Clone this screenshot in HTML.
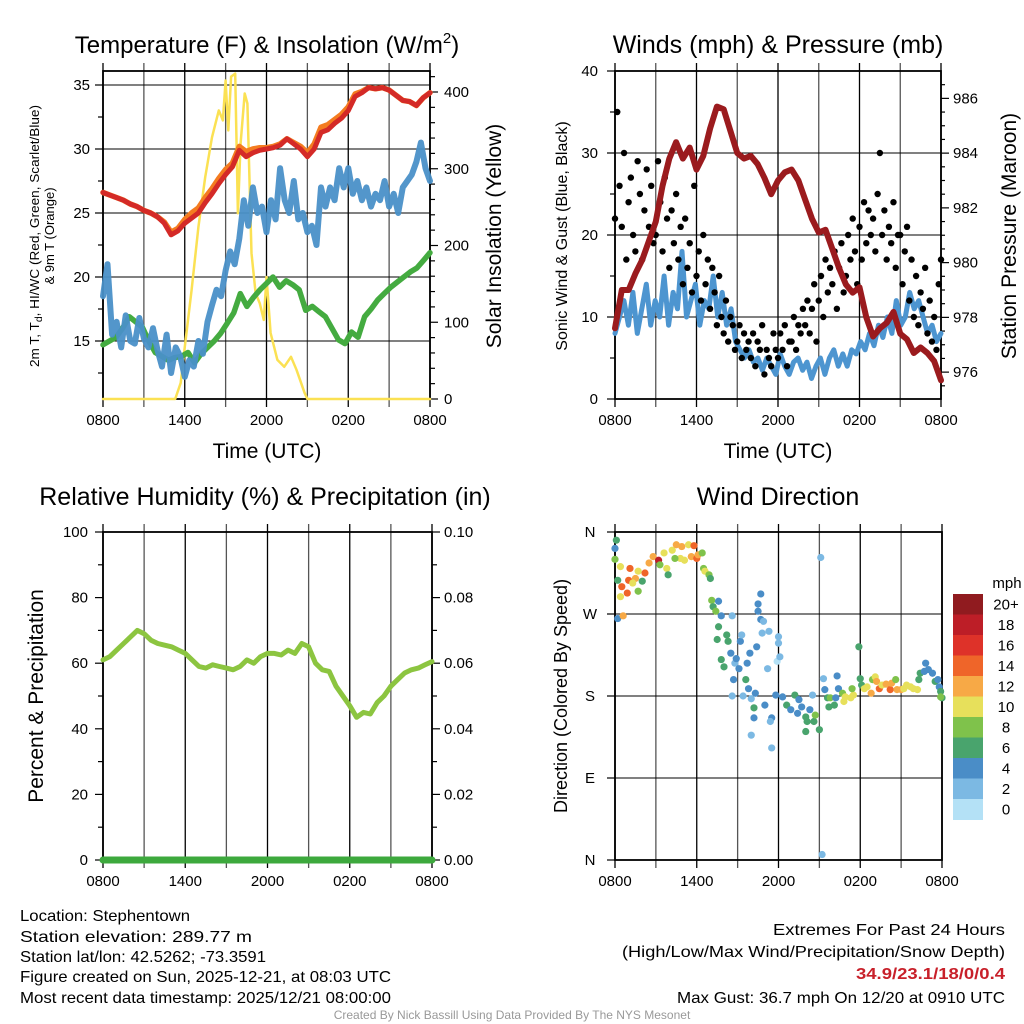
<!DOCTYPE html>
<html><head><meta charset="utf-8">
<style>
html,body{margin:0;padding:0;background:#fff;}
svg{display:block;font-family:"Liberation Sans",sans-serif;}
</style></head>
<body>
<svg id="fig" width="1024" height="1024" viewBox="0 0 1024 1024" xmlns="http://www.w3.org/2000/svg">
<rect x="0" y="0" width="1024" height="1024" fill="#fff"/>
<g id="p1"></g>
<g id="p2"></g>
<g id="p3"></g>
<g id="p4"></g>

<text x="267" y="53" font-size="24" text-anchor="middle">Temperature (F) &amp; Insolation (W/m<tspan font-size="15" dy="-10">2</tspan><tspan dy="10">)</tspan></text>
<text x="778" y="53" font-size="25" text-anchor="middle">Winds (mph) &amp; Pressure (mb)</text>
<text x="265" y="505" font-size="25" text-anchor="middle">Relative Humidity (%) &amp; Precipitation (in)</text>
<text x="778" y="505" font-size="25" text-anchor="middle">Wind Direction</text>

<text transform="translate(39,236) rotate(-90)" font-size="13" text-anchor="middle" textLength="262" lengthAdjust="spacingAndGlyphs">2m T, T<tspan font-size="10" dy="3">d</tspan><tspan dy="-3">, HI/WC (Red, Green, Scarlet/Blue)</tspan></text>
<text transform="translate(54,236) rotate(-90)" font-size="13" text-anchor="middle">&amp; 9m T (Orange)</text>
<text transform="translate(501,236) rotate(-90)" font-size="21" text-anchor="middle">Solar Insolation (Yellow)</text>
<text transform="translate(567,236) rotate(-90)" font-size="16" text-anchor="middle">Sonic Wind &amp; Gust (Blue, Black)</text>
<text transform="translate(1016,236) rotate(-90)" font-size="21" text-anchor="middle">Station Pressure (Maroon)</text>
<text transform="translate(43,696) rotate(-90)" font-size="21" text-anchor="middle">Percent &amp; Precipitation</text>
<text transform="translate(567,696) rotate(-90)" font-size="18" text-anchor="middle">Direction (Colored By Speed)</text>
<text x="267" y="458" font-size="21" text-anchor="middle">Time (UTC)</text>
<text x="778" y="458" font-size="21" text-anchor="middle">Time (UTC)</text>

<g font-size="16">
<text x="20" y="921" textLength="170" lengthAdjust="spacingAndGlyphs">Location: Stephentown</text>
<text x="20" y="942" textLength="232" lengthAdjust="spacingAndGlyphs">Station elevation: 289.77 m</text>
<text x="20" y="962" textLength="246" lengthAdjust="spacingAndGlyphs">Station lat/lon: 42.5262; -73.3591</text>
<text x="20" y="982" textLength="371" lengthAdjust="spacingAndGlyphs">Figure created on Sun, 2025-12-21, at 08:03 UTC</text>
<text x="20" y="1003" textLength="371" lengthAdjust="spacingAndGlyphs">Most recent data timestamp: 2025/12/21 08:00:00</text>
</g>
<g font-size="16" text-anchor="end">
<text x="1005" y="935" textLength="232" lengthAdjust="spacingAndGlyphs">Extremes For Past 24 Hours</text>
<text x="1005" y="957" textLength="383" lengthAdjust="spacingAndGlyphs">(High/Low/Max Wind/Precipitation/Snow Depth)</text>
<text x="1005" y="979" fill="#c8202a" font-weight="bold" textLength="149" lengthAdjust="spacingAndGlyphs">34.9/23.1/18/0/0.4</text>
<text x="1005" y="1003" textLength="328" lengthAdjust="spacingAndGlyphs">Max Gust: 36.7 mph On 12/20 at 0910 UTC</text>
</g>
<text x="512" y="1019" font-size="12" fill="#999" text-anchor="middle">Created By Nick Bassill Using Data Provided By The NYS Mesonet</text>
</svg>
<script>
// ---------- DATA ----------
const xTickLabels = ["0800","1400","2000","0200","0800"];
const tempTicks = [15,20,25,30,35];
const solarTicks = [0,100,200,300,400];
const windTicks = [0,10,20,30,40];
const pressTicks = [976,978,980,982,984,986];
const rhTicks = [0,20,40,60,80,100];
const precipTicks = ["0.00","0.02","0.04","0.06","0.08","0.10"];
const dirTickLabels = ["N","E","S","W","N"];
const speedBinLabels = ["0","2","4","6","8","10","12","14","16","18","20+"];
const speedColors = ["#b4e1f6","#7cb9e3","#4a8dc7","#49a46d","#7fc24b","#e7e05b","#f7a946","#ef6529","#de3229","#bd1e27","#901b1f"];

// temperature (F), every 30 min from 0800
const tempRed = [26.6,26.4,26.2,26,25.7,25.5,25.2,25,24.7,24.2,23.3,23.6,24.2,24.6,25,25.8,26.5,27.3,28,28.6,29.9,29.4,29.7,29.9,30,30.1,30.3,30.8,30.4,30,29.4,30,31.3,31.5,32,32.4,33,34.1,34.4,34.8,34.7,34.8,34.6,34.2,33.8,33.7,33.4,34,34.4];
const tempOrange = [26.6,26.4,26.2,26,25.7,25.5,25.2,25,24.7,24.3,23.5,23.8,24.5,25,25.4,26.2,26.9,27.7,28.4,28.9,30.2,29.8,30,30.1,30.1,30.2,30.4,30.8,30.5,30.2,29.7,30.4,31.7,31.9,32.3,32.7,33.3,34.3,34.5,34.8,34.7,34.8,34.6,34.2,33.8,33.7,33.4,34,34.4];
const dewGreen = [14.7,15,15.3,16,16.9,16.5,16.1,15,14.1,13.8,13.5,13.7,13.8,14.1,13.3,14,14.5,15,15.6,16.4,17.2,18.7,17.7,18.4,19,19.5,20,19.2,19.7,19.4,19,17.4,17.7,17.3,16.9,16,15.1,14.8,15.7,15.3,16.9,17.5,18.2,18.7,19.2,19.6,20,20.4,20.7,21.3,21.9];
// wind chill, every 20 min
const chillBlue = [18.5,21,15.5,16.5,14.5,17,15,14.8,16.8,15.2,14.5,16,14.3,13,15.5,12.5,14.5,13.8,12.2,13.5,13,15,14,16.5,17.8,19,18.5,20.5,22,21,23,26,24,27,25,25.5,23.5,26,24.5,28.5,26,25,27.5,24.5,25,23.5,24,22.5,27,25.5,27,26,28.5,27,28.5,26.5,27.5,26,27,25.5,26.5,26,27.5,25.5,26.5,25,27,27.5,28,29,30.5,28.5,27.5];
const solarHours = [0,5,5.3,5.7,6,6.5,7,7.5,8,8.5,8.8,9,9.2,9.4,9.7,9.9,10.1,10.4,10.6,10.9,11.2,11.5,11.8,12,12.3,12.8,13.3,13.8,14.2,14.8,15,24];
const solarValues = [0,0,0,21,68,142,224,289,341,376,363,415,350,420,424,242,333,398,385,190,138,125,103,159,86,51,42,55,38,8,0,0];

// winds, every 20 min (mph)
const windBlue = [8,10,12,9,13,8,11,14,9,12,10,15,9,13,11,18,10,12,14,9,12,11,15,10,13,9,11,7,6,5,6,4.5,5,3.5,5,4,3,5.5,4,3,4.5,5,3.5,4.5,2.5,4,5,3,5,6,4,5.5,4,6,5.5,7,6,8,6.5,9,7.5,10,8,12,9,10,13,11,12,10,8,9,7,8];
// gusts, every 10 min (mph)
const gustBlack = [22,35,26,21,30,17,24,27,20,18,29,25,17,23,28,21,26,19,20,29,24,18,27,22,16,23,19,25,17,21,14,22,16,19,13,26,15,18,12,20,14,17,11,16,13,9,15,10,8,12,7,10,9,6,7,9,5,8,6,7,5,8,4,7,6,9,3,6,5,4,8,6,5,8,6,9,4,7,7,10,6,9,8,11,9,12,8,11,14,7,12,15,10,17,13,16,14,18,11,16,19,13,15,20,17,22,18,14,21,17,24,19,23,20,22,18,25,30,20,23,17,21,19,24,16,20,20,14,18,21,12,17,10,15,9,13,11,16,8,12,7,10,6,14,17];
// pressure, every 30 min (mb)
const pressure = [977.6,979,979,979.6,980.1,980.8,981.5,982.8,983.8,984.4,983.8,984.2,983.4,983.9,984.9,985.7,985.6,984.8,984,983.8,983.9,983.6,983.1,982.5,983,983.3,983.4,983,982.3,981.6,981.1,981.2,980.5,979.8,979.2,978.9,979.1,978,977.3,977.6,977.8,978.2,977.4,977.2,976.7,976.9,976.7,976.4,975.7];

// relative humidity, every 30 min (%)
const rh = [61,62,64,66,68,70,69,67,66,65.5,65,64,63,61,59,58.5,59.5,59,58.5,58,59,61,60,62,63,63,62.5,64,63,66,65,60,58,57.5,53,50,47,43.5,45,44.5,48,50,53,55,57,58,58.5,59.5,60.5];
const precip = [0,0];

// wind direction points
const dirHours = [0.1,0,0,0.4,0.2,0.5,0.9,0.4,0.2,0.6,1.1,1,1.5,1.7,1.3,2,1.7,2.2,2.5,2.8,3.2,3.3,3.6,3.8,3.9,4.2,4.5,4.9,4.8,4.4,5.1,5.4,5.8,5.6,6,6.1,6.4,6.5,6.6,6.9,7,7.1,7.2,7.4,7.6,7.8,8.6,7.6,7.5,8.2,8.3,7.8,8,8.5,8.8,8.9,9.1,9.2,9.3,8.7,9.6,9.8,9.7,9.9,10.4,10.7,10.5,10.5,10.7,10.9,10.8,11.3,11.2,12,12,11.9,12.1,10.3,10.2,10.2,10,11,11.5,11.4,11.5,11.8,8.6,9.4,10,12.3,12.6,12.9,13.2,13.5,13.4,14,13.7,14.1,14,14.3,14.5,14.6,14.7,15,15.1,15.2,15.3,15.4,15.6,15.8,15.7,16.1,16.2,16.3,16.4,16.7,16.8,16.9,17.3,17.5,17.4,17.9,18,18.1,18.3,18.5,18.8,18.9,19.1,19.4,19.2,19.6,19.9,20.2,20.3,20.6,20.7,21,21.2,21.4,21.7,21.9,22.2,22.3,22.4,22.7,22.8,23,23.3,23.5,23.7,23.8,23.9,24,23.9];
const dirDegrees = [351,342,330,322,307,300,293,289,265,268,320,307,309,317,304,306,295,315,326,333,329,324,337,320,313,340,346,344,331,331,329,346,345,333,331,335,337,320,317,313,309,285,278,273,284,268,268,256,242,247,240,220,212,227,216,221,210,240,247,198,198,188,216,227,234,292,281,273,264,262,249,251,210,245,238,218,223,183,167,156,137,170,156,152,123,181,180,180,177,179,170,165,181,176,161,157,168,152,141,165,181,152,159,143,332,6,199,187,178,178,168,170,178,202,188,183,174,179,178,181,188,234,199,192,188,190,183,198,201,188,196,192,193,187,194,198,187,187,188,192,190,188,187,198,205,207,216,209,205,196,198,190,185,178,179];
const dirSpeeds = [6,4,8,10,6,14,14,10,4,12,14,14,12,10,10,6,8,14,12,12,18,8,10,10,6,10,12,12,10,8,10,10,14,12,14,12,8,8,10,8,6,8,6,8,4,4,2,6,6,6,6,6,6,4,2,4,4,4,2,4,6,4,4,4,4,4,4,4,4,2,2,2,2,2,2,0,2,4,6,4,2,4,4,2,2,4,2,2,2,4,6,4,6,4,4,6,4,6,6,4,2,6,8,6,2,2,2,4,6,8,6,6,4,4,4,8,10,10,10,10,8,6,6,6,10,10,12,8,10,14,12,10,12,14,12,8,12,12,10,10,10,10,10,6,6,4,4,4,4,6,4,4,6,6,8];

// ---------- HELPERS ----------
const NS = "http://www.w3.org/2000/svg";
function mk(parent, tag, attrs){const e=document.createElementNS(NS,tag);for(const k in attrs)e.setAttribute(k,attrs[k]);parent.appendChild(e);return e;}
function scale(d0,d1,r0,r1){return v=>r0+(v-d0)*(r1-r0)/(d1-d0);}
function evenPath(arr, xs, ys){const step=24/(arr.length-1);return arr.map((v,i)=>(i?"L":"M")+xs(i*step).toFixed(1)+","+ys(v).toFixed(1)).join("");}

function frame(g, L, T, R, B, name){
  const xs=scale(0,24,L,R);
  for(let h=0;h<=24;h+=3){
    const l=mk(g,"line",{x1:xs(h),x2:xs(h),y1:T-8,y2:B+8,stroke:(h%6===0?"#000":"#555"),"stroke-width":1.3});
    
    
  }
  const r=mk(g,"rect",{x:L,y:T,width:R-L,height:B-T,fill:"none",stroke:"#000","stroke-width":1.8});
  
  
  xTickLabels.forEach((t,i)=>{
    const e=mk(g,"text",{x:xs(i*6),y:B+26,"font-size":15,"text-anchor":"middle"});
    e.textContent=t;
    
    
  });
  return xs;
}
function hgrid(g,L,R,y){const l=mk(g,"line",{x1:L,x2:R,y1:y,y2:y,stroke:"#000","stroke-width":1.1});
  
  }
function tick(g,x1,x2,y){mk(g,"line",{x1:x1,x2:x2,y1:y,y2:y,stroke:"#000","stroke-width":1.2});}
function label(g,x,y,t,anchor,name){const e=mk(g,"text",{x:x,y:y+5,"font-size":15,"text-anchor":anchor});e.textContent=t;
  
  }
function line(g,d,color,w,name,op){const p=mk(g,"path",{d:d,fill:"none",stroke:color,"stroke-width":w,"stroke-linejoin":"round","stroke-linecap":"round","stroke-opacity":op||1});
  
  return p;}

// ---------- PANEL 1 ----------
(function(){
  const g=document.getElementById("p1");const L=103,T=71,R=430,B=399;
  const xs=frame(g,L,T,R,B,"temperature");
  const yT=scale(15,35,341,85), yS=scale(0,400,399,92);
  tempTicks.forEach(v=>{hgrid(g,L,R,yT(v));tick(g,L-8,L,yT(v));label(g,L-13,yT(v),String(v),"end","temp-tick-label");});
  for(let v=12.5;v<=35;v+=5)tick(g,L-5,L,yT(v));
  solarTicks.forEach(v=>{tick(g,R,R+8,yS(v));label(g,R+14,yS(v),String(v),"start","solar-tick-label");});
  for(let v=20;v<=420;v+=20)if(v%100)tick(g,R,R+5,yS(v));
  line(g,solarHours.map((h,i)=>(i?"L":"M")+xs(h).toFixed(1)+","+yS(solarValues[i]).toFixed(1)).join(""),"#fbe153",2.5,"solar-insolation-line");
  line(g,evenPath(dewGreen,xs,yT),"#44ab40",5.5,"dewpoint-line");
  line(g,evenPath(chillBlue,xs,yT),"#4a90c8",6,"wind-chill-line",0.95);
  line(g,evenPath(tempOrange,xs,yT),"#f47c20",5.5,"temp-9m-line");
  line(g,evenPath(tempRed,xs,yT),"#d42a27",5,"temp-2m-line");
})();

// ---------- PANEL 2 ----------
(function(){
  const g=document.getElementById("p2");const L=615,T=71,R=941,B=399;
  const xs=frame(g,L,T,R,B,"winds");
  const yW=scale(0,40,399,71), yP=scale(975,987,399.5,71);
  windTicks.forEach(v=>{if(v>0&&v<40)hgrid(g,L,R,yW(v));tick(g,L-8,L,yW(v));label(g,L-17,yW(v),String(v),"end","wind-tick-label");});
  for(let v=5;v<40;v+=10)tick(g,L-5,L,yW(v));
  pressTicks.forEach(v=>{tick(g,R,R+8,yP(v));label(g,R+12,yP(v),String(v),"start","pressure-tick-label");});
  for(let v=975.5;v<987;v+=0.5)if(Math.abs(v-Math.round(v/2)*2)>0.01)tick(g,R,R+4,yP(v));
  line(g,evenPath(windBlue,xs,yW),"#4d95d0",5,"sonic-wind-line");
  const step=24/(gustBlack.length-1);
  gustBlack.forEach((v,i)=>{
    const c=mk(g,"circle",{cx:xs(i*step),cy:yW(v),r:3.2,fill:"#000"});
    
    
  });
  line(g,evenPath(pressure,xs,yP),"#9b1b1e",6,"pressure-line");
})();

// ---------- PANEL 3 ----------
(function(){
  const g=document.getElementById("p3");const L=103,T=532,R=432,B=860;
  const xs=frame(g,L,T,R,B,"humidity");
  const yR=scale(0,100,860,532), yPr=scale(0,0.1,860,532);
  rhTicks.forEach(v=>{tick(g,L-8,L,yR(v));label(g,L-15,yR(v),String(v),"end","humidity-tick-label");});
  for(let v=10;v<100;v+=20)tick(g,L-5,L,yR(v));
  precipTicks.forEach(t=>{const v=parseFloat(t);tick(g,R,R+8,yPr(v));label(g,R+12,yPr(v),t,"start","precip-tick-label");});
  for(let v=0.01;v<0.1;v+=0.02)tick(g,R,R+5,yPr(v));
  line(g,evenPath(rh,xs,yR),"#8cc540",5,"humidity-line");
  line(g,evenPath(precip,xs,yPr),"#3da93d",7,"precipitation-line");
})();

// ---------- PANEL 4 ----------
(function(){
  const g=document.getElementById("p4");const L=615,T=532,R=942,B=860;
  const xs=frame(g,L,T,R,B,"direction");
  const yD=scale(0,360,860,532);
  dirTickLabels.forEach((t,i)=>{const v=i*90;if(v>0&&v<360)hgrid(g,L,R,yD(v));tick(g,L-8,L,yD(v));label(g,L-25,yD(v),t,"middle","direction-tick-label");});
  dirHours.forEach((h,i)=>{
    const s=dirSpeeds[i];const bin=Math.min(10,Math.floor(s/2));
    const c=mk(g,"circle",{cx:xs(h),cy:yD(dirDegrees[i]),r:3.6,fill:speedColors[bin]});
    
    
  });
  const cb=mk(g,"g",{});
  
  
  const top=594,bh=20.5;
  const mt=mk(cb,"text",{x:1007,y:588,"font-size":15,"text-anchor":"middle"});mt.textContent="mph";
  
  
  for(let k=0;k<speedBinLabels.length;k++){
    const idx=speedBinLabels.length-1-k;
    const r=mk(cb,"rect",{x:953,y:top+k*bh,width:30,height:bh+0.5,fill:speedColors[idx]});
    
    
    const t=mk(cb,"text",{x:1006,y:top+k*bh+bh/2+5,"font-size":15,"text-anchor":"middle"});
    t.textContent=speedBinLabels[idx];
    
    
  }
})();
</script>
</body></html>
